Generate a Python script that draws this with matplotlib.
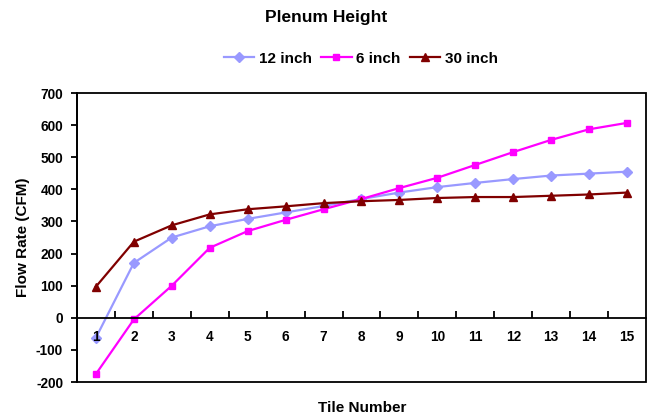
import matplotlib
matplotlib.use("Agg")
import matplotlib.pyplot as plt
from matplotlib.patches import Rectangle
from matplotlib.ticker import FixedLocator, NullFormatter

plt.rcParams['font.family'] = ['Liberation Sans', 'DejaVu Sans']
plt.rcParams['font.weight'] = 'bold'
plt.rcParams['axes.unicode_minus'] = False

tiles = list(range(1, 16))
flow_12in = [-62, 171, 250, 285, 308, 328, 348, 370, 390, 407, 420, 432, 443, 449, 455]
flow_6in = [-175, -5, 100, 218, 270, 305, 338, 370, 404, 436, 476, 516, 554, 587, 607]
flow_30in = [97, 237, 288, 322, 338, 347, 357, 363, 367, 373, 376, 376, 380, 384, 390]

fig = plt.figure(figsize=(6.49, 4.18), dpi=100)
ax = fig.add_axes([0.1186, 0.0861, 0.8768, 0.6914])
ax.set_axisbelow(False)

l1, = ax.plot(tiles, flow_12in, color='#9999FF', marker='D', markersize=5.5, lw=1.6, label='12 inch')
l2, = ax.plot(tiles, flow_6in, color='#FF00FF', marker='s', markersize=5, lw=1.6, label='6 inch')
l3, = ax.plot(tiles, flow_30in, color='#800000', marker='^', markersize=6, lw=1.6, label='30 inch')

ax.set_xlim(0.5, 15.5)
ax.set_ylim(-200, 700)
ax.set_yticks(range(-200, 701, 100))

# Category axis crossing at zero, ticks between categories
ax.spines['bottom'].set_position(('data', 0))
ax.spines['top'].set_visible(False)
ax.spines['right'].set_visible(False)
for s in ax.spines.values():
    s.set_linewidth(1.3)
ax.xaxis.set_major_locator(FixedLocator(tiles))
ax.xaxis.set_minor_locator(FixedLocator([t + 0.5 for t in tiles[:-1]]))
ax.xaxis.set_minor_formatter(NullFormatter())
ax.tick_params(axis='x', which='major', length=0, pad=9, labelsize=9.8)
ax.tick_params(axis='x', which='minor', direction='in', length=5, width=1.3)
ax.tick_params(axis='y', direction='out', length=4, width=1.3, labelsize=9.8, pad=6)
for lab in ax.get_xticklabels() + ax.get_yticklabels():
    lab.set_fontweight('bold')

# Plot-area frame
ax.add_patch(Rectangle((0, 0), 1, 1, transform=ax.transAxes, fill=False,
                       edgecolor='black', lw=1.3, clip_on=False, zorder=5))

ax.set_ylabel('Flow Rate (CFM)', fontsize=11, fontweight='bold', labelpad=4)
fig.text(0.558, 0.025, 'Tile Number', ha='center', va='center', fontsize=11, fontweight='bold')
fig.text(0.503, 0.957, 'Plenum Height', ha='center', va='center', fontsize=12.5, fontweight='bold')

fig.legend(handles=[l1, l2, l3], loc='center', bbox_to_anchor=(0.556, 0.86), ncol=3,
           frameon=False, handlelength=2.0, handletextpad=0.3,
           columnspacing=0.6, prop={'weight': 'bold', 'size': 11})

fig.savefig('out.png', dpi=100)
